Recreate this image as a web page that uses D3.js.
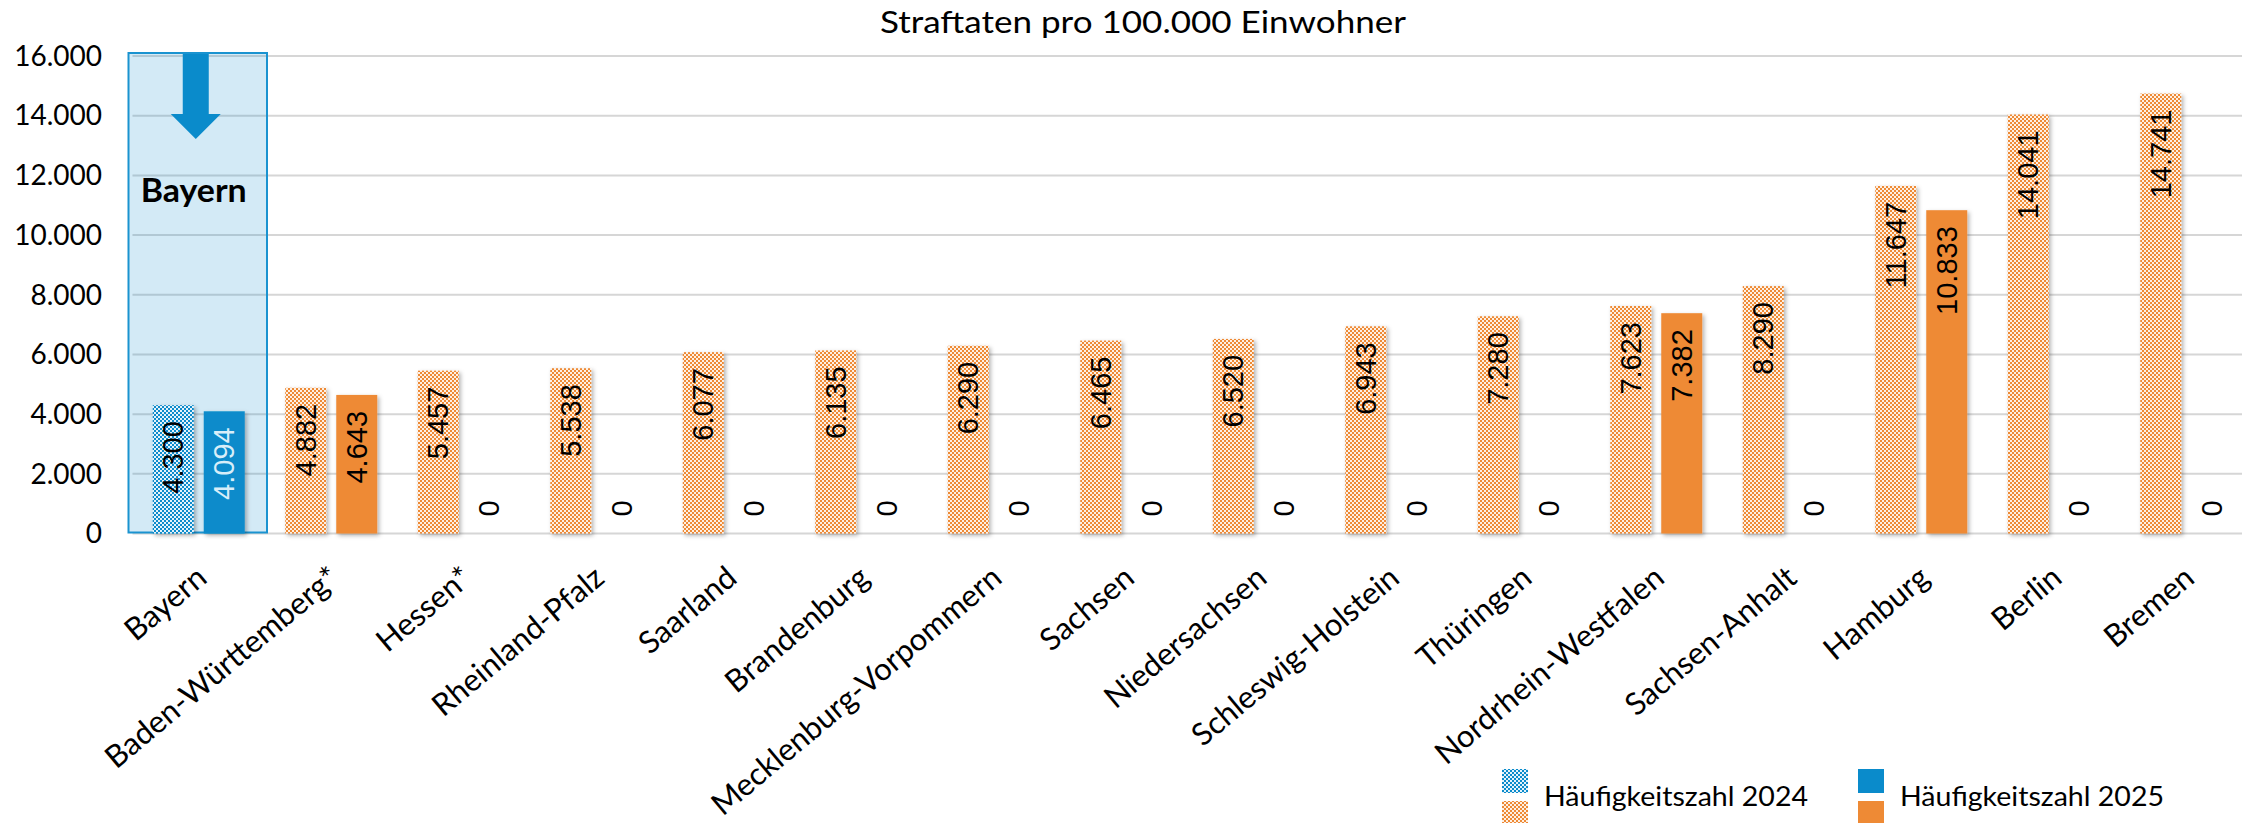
<!DOCTYPE html>
<html lang="de">
<head>
<meta charset="UTF-8" />
<title>Straftaten pro 100.000 Einwohner</title>
<style>
  body { margin: 0; background: #fff; }
  svg { display: block; }
  .tick-label { font-family: Lato, "Open Sans", sans-serif; font-size: 28px; fill: #000; }
  .val { font-family: "Liberation Sans", Arial, sans-serif; font-size: 29px; }
</style>
</head>
<body>
<svg id="chart" width="2242" height="823"></svg>
<script src="https://cdn.jsdelivr.net/npm/d3@7"></script>
<script>
// data
var states = ["Bayern", "Baden-Württemberg*", "Hessen*", "Rheinland-Pfalz", "Saarland",
  "Brandenburg", "Mecklenburg-Vorpommern", "Sachsen", "Niedersachsen", "Schleswig-Holstein",
  "Thüringen", "Nordrhein-Westfalen", "Sachsen-Anhalt", "Hamburg", "Berlin", "Bremen"];
var hz2024 = [4300, 4882, 5457, 5538, 6077, 6135, 6290, 6465, 6520, 6943, 7280, 7623, 8290, 11647, 14041, 14741];
var hz2025 = [4094, 4643, 0, 0, 0, 0, 0, 0, 0, 0, 0, 7382, 0, 10833, 0, 0];
var years = ["2024", "2025"];
var yTicks = [0, 2000, 4000, 6000, 8000, 10000, 12000, 14000, 16000];
var legendLabels = ["Häufigkeitszahl 2024", "Häufigkeitszahl 2025"];
var titleText = "Straftaten pro 100.000 Einwohner";
var highlight = "Bayern";

var blue = "#0a8bcb", orange = "#ee8a35";

var de = d3.formatLocale({decimal: ",", thousands: ".", grouping: [3], currency: ["", " €"]});
var fmt = de.format(",d");

var svg = d3.select("#chart");

var x = d3.scaleBand().domain(states).range([132.5, 2252.5]);
var xs = d3.scaleBand().domain(years).range([0, x.bandwidth()])
    .paddingInner(10 / 51).paddingOuter(0.397);
var y = d3.scaleLinear().domain([0, 16000]).range([533.5, 56]);

// patterns + shadow
var defs = svg.append("defs");
function checker(id, col, light) {
  var p = defs.append("pattern").attr("id", id)
      .attr("patternUnits", "userSpaceOnUse").attr("width", 4).attr("height", 4);
  p.append("rect").attr("width", 4).attr("height", 4).attr("fill", light);
  p.append("rect").attr("width", 2).attr("height", 2).attr("fill", col);
  p.append("rect").attr("x", 2).attr("y", 2).attr("width", 2).attr("height", 2).attr("fill", col);
}
checker("chkBlue", blue, "#e4f2fa");
checker("chkOrange", orange, "#fdf0e4");
defs.append("filter").attr("id", "shadow").attr("x", "-20%").attr("y", "-5%").attr("width", "140%").attr("height", "110%")
  .append("feDropShadow").attr("dx", 2).attr("dy", 2).attr("stdDeviation", 2)
  .attr("flood-color", "#000").attr("flood-opacity", 0.3);

function fillFor(state, year) {
  if (state === highlight) return year === "2024" ? "url(#chkBlue)" : blue;
  return year === "2024" ? "url(#chkOrange)" : orange;
}

// title
svg.append("text")
  .attr("x", 1143).attr("y", 33)
  .attr("text-anchor", "middle")
  .attr("class", "tick-label")
  .style("font-size", "30px")
  .attr("textLength", 526).attr("lengthAdjust", "spacingAndGlyphs")
  .text(titleText);

// grid
svg.append("g").selectAll("line")
  .data(yTicks).enter().append("line")
  .attr("x1", x.range()[0]).attr("x2", 2242)
  .attr("y1", function(d) { return y(d); })
  .attr("y2", function(d) { return y(d); })
  .attr("stroke", "#d6d6d6").attr("stroke-width", 2);

// y labels
svg.append("g").selectAll("text")
  .data(yTicks).enter().append("text")
  .attr("class", "tick-label")
  .attr("x", 102)
  .attr("y", function(d) { return y(d); })
  .attr("dy", "0.35em")
  .attr("text-anchor", "end")
  .text(function(d) { return fmt(d); });

// highlight box behind Bayern
var bx = x(highlight) - 4, bw = x.bandwidth() + 6;
svg.append("rect")
  .attr("x", bx).attr("y", y(16000) - 3)
  .attr("width", bw).attr("height", y(0) - y(16000) + 2)
  .attr("fill", "rgba(10,139,203,0.18)")
  .attr("stroke", "#1a93d0").attr("stroke-width", 2);

var ax = bx + bw / 2 - 2, ay = y(16000) - 2;
svg.append("path")
  .attr("d", "M" + (ax - 13) + "," + ay + "V" + (ay + 60) + "H" + (ax - 25) +
    "L" + ax + "," + (ay + 85) + "L" + (ax + 25) + "," + (ay + 60) + "H" + (ax + 13) + "V" + ay + "Z")
  .attr("fill", blue);

svg.append("text")
  .attr("x", ax - 2).attr("y", 202)
  .attr("text-anchor", "middle")
  .style("font-family", "Lato, sans-serif").style("font-weight", "bold").style("font-size", "32px")
  .attr("textLength", 106).attr("lengthAdjust", "spacingAndGlyphs")
  .text(highlight);

// bars
var rows = [];
states.forEach(function(s, i) {
  rows.push({state: s, year: "2024", v: hz2024[i]});
  rows.push({state: s, year: "2025", v: hz2025[i]});
});

svg.append("g").selectAll("rect")
  .data(rows.filter(function(d) { return d.v > 0; }))
  .enter().append("rect")
  .attr("x", function(d) { return x(d.state) + xs(d.year); })
  .attr("y", function(d) { return y(d.v); })
  .attr("width", xs.bandwidth())
  .attr("height", function(d) { return y(0) - y(d.v); })
  .attr("fill", function(d) { return fillFor(d.state, d.year); })
  .attr("filter", "url(#shadow)");

// value labels (rotated)
svg.append("g").selectAll("text")
  .data(rows).enter().append("text")
  .attr("class", "val")
  .attr("transform", function(d) {
    var cx = x(d.state) + xs(d.year) + xs.bandwidth() / 2;
    var yy = d.v > 0 ? y(d.v) + 16 : y(0) - 17;
    return "translate(" + cx + "," + yy + ") rotate(-90)";
  })
  .attr("dy", "0.35em")
  .attr("text-anchor", function(d) { return d.v > 0 ? "end" : "start"; })
  .attr("fill", function(d) { return (d.state === highlight && d.year === "2025") ? "#d8eef9" : "#000"; })
  .text(function(d) { return fmt(d.v); });

// x labels
svg.append("g").selectAll("text")
  .data(states).enter().append("text")
  .attr("class", "tick-label")
  .style("font-size", "31px")
  .attr("text-anchor", "end")
  .attr("transform", function(d) {
    return "translate(" + (x(d) + x.bandwidth() / 2 + 10) + ",581) rotate(-40)";
  })
  .text(function(d) { return d; });

// legend
var legX = [1502, 1858];
var leg = svg.append("g");
years.forEach(function(yr, i) {
  leg.append("rect").attr("x", legX[i]).attr("y", 769).attr("width", 26).attr("height", 24)
    .attr("fill", fillFor(highlight, yr));
  leg.append("rect").attr("x", legX[i]).attr("y", 801).attr("width", 26).attr("height", 24)
    .attr("fill", fillFor("other", yr));
  leg.append("text").attr("x", legX[i] + 42).attr("y", 806)
    .style("font-family", "Lato, sans-serif").style("font-size", "26px")
    .attr("textLength", 264).attr("lengthAdjust", "spacingAndGlyphs")
    .text(legendLabels[i]);
});
</script>
</body>
</html>
